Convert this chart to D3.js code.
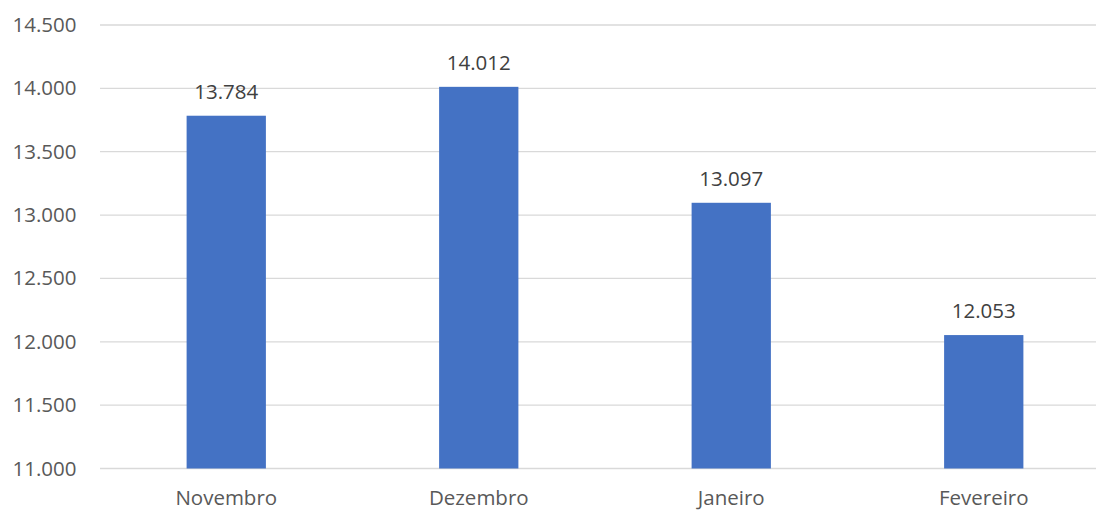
<!DOCTYPE html>
<html>
<head>
<meta charset="utf-8">
<script src="https://cdn.jsdelivr.net/npm/d3@7"></script>
<style>
  body { margin: 0; background: #fff; }
  svg { display: block; font-family: "Open Sans", sans-serif; }
</style>
</head>
<body>
<svg id="chart"></svg>
<script>
// chart data
const months = ["Novembro", "Dezembro", "Janeiro", "Fevereiro"];
const values = [13784, 14012, 13097, 12053];
const yTicks = [11000, 11500, 12000, 12500, 13000, 13500, 14000, 14500];

const width = 1096;
const height = 512;
const margin = { top: 25, right: -14, bottom: 43.5, left: 100 };

const svg = d3.select("#chart")
  .attr("width", width)
  .attr("height", height);

const x = d3.scaleBand()
  .domain(months)
  .range([margin.left, width - margin.right])
  .paddingInner(0.686)
  .paddingOuter(0.343);

const y = d3.scaleLinear()
  .domain([11000, 14500])
  .range([height - margin.bottom, margin.top]);

const fmt = d => d3.format(",")(d).replace(/,/g, ".");

// gridlines
svg.append("g")
  .selectAll("line")
  .data(yTicks)
  .enter()
  .append("line")
  .attr("x1", margin.left)
  .attr("x2", width - margin.right)
  .attr("y1", d => y(d))
  .attr("y2", d => y(d))
  .attr("stroke", "#d9d9d9")
  .attr("stroke-width", 1.3);

// y axis labels
const yAxis = d3.axisLeft(y).tickValues(yTicks).tickSize(0).tickPadding(0).tickFormat(fmt);
svg.append("g")
  .attr("transform", `translate(${margin.left - 23.5},0)`)
  .call(yAxis)
  .call(g => g.select(".domain").remove())
  .call(g => g.selectAll("text")
    .attr("fill", "#595959")
    .style("font-size", "20.5px")
    .style("font-family", "'Open Sans', sans-serif"));

// bars
svg.selectAll("rect.bar")
  .data(values)
  .enter()
  .append("rect")
  .attr("class", "bar")
  .attr("x", (d, i) => x(months[i]))
  .attr("width", x.bandwidth())
  .attr("y", d => y(d))
  .attr("height", d => y(11000) - y(d))
  .attr("fill", "#4472c4");

// value labels
svg.selectAll("text.val")
  .data(values)
  .enter()
  .append("text")
  .attr("class", "val")
  .attr("x", (d, i) => x(months[i]) + x.bandwidth() / 2)
  .attr("y", d => y(d) - 17)
  .attr("text-anchor", "middle")
  .attr("fill", "#404040")
  .style("font-size", "20.5px")
  .text(fmt);

// x axis labels
const xAxis = d3.axisBottom(x).tickSize(0).tickPadding(0);
svg.append("g")
  .attr("transform", `translate(0,${height - margin.bottom + 22})`)
  .call(xAxis)
  .call(g => g.select(".domain").remove())
  .call(g => g.selectAll("text")
    .attr("fill", "#595959")
    .style("font-size", "20.5px")
    .style("font-family", "'Open Sans', sans-serif"));
</script>
</body>
</html>
